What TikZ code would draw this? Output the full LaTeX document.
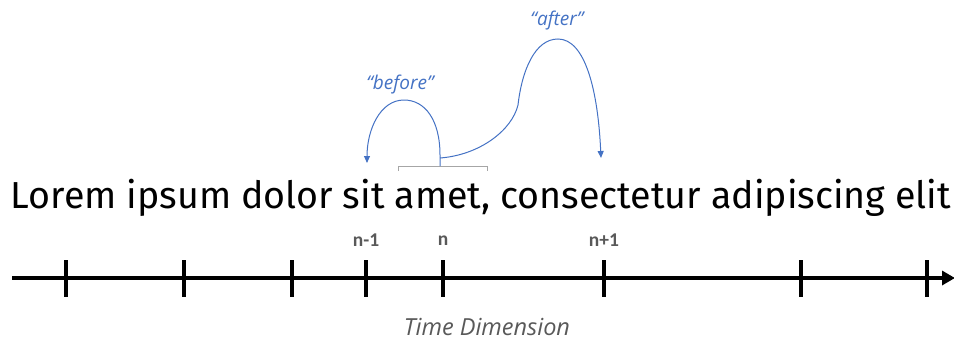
\documentclass[tikz,border=0pt]{standalone}
\usepackage{fontspec}
\setmainfont{Fira Sans}
\newfontfamily\lblfont{Carlito}
\newfontfamily\itfont{Open Sans}
\usetikzlibrary{arrows.meta}
\definecolor{arcblue}{HTML}{4472C4}
\definecolor{lblgray}{HTML}{595959}
\definecolor{brgray}{HTML}{A6A6A6}
\begin{document}
\begin{tikzpicture}[x=1pt,y=-1pt,
  axisline/.style={line width=3.6pt,-{Triangle[length=13pt,width=14pt]}},
  tickmark/.style={line width=3.6pt},
  ticklabel/.style={font=\lblfont\bfseries\fontsize{19.5}{21}\selectfont,text=lblgray},
  arcline/.style={arcblue,line width=1pt,-{Triangle[length=7pt,width=6pt]}},
  arclabel/.style={font=\itfont\itshape\fontsize{19}{22}\selectfont,text=arcblue},
  bracket/.style={brgray,line width=1pt}]
\useasboundingbox (0,0) rectangle (954,343);
% main sentence
\node[font=\fontsize{37.6}{40}\selectfont,anchor=base] (sent) at (481,208) {Lorem ipsum dolor sit amet, consectetur adipiscing elit};
% axis
\coordinate (axL) at (12,278);
\coordinate (axR) at (955,278);
\draw[axisline] (axL) -- (axR);
\foreach \x [count=\i] in {66,184,292,366,443,604,801,927}{
  \coordinate (tt\i) at (\x,260);
  \coordinate (tb\i) at (\x,297);
  \draw[tickmark] (tt\i) -- (tb\i);
}
\node[ticklabel] (lnm) at (366,240) {n-1};
\node[ticklabel] (ln) at (443,241) {n};
\node[ticklabel] (lnp) at (604,240) {n+1};
\node[font=\itfont\itshape\fontsize{23.5}{26}\selectfont,text=lblgray,inner sep=0pt,anchor=base] (tdim) at (487,335) {Time Dimension};
% bracket
\coordinate (bL) at (398,171);
\coordinate (bLt) at (398,166);
\coordinate (bR) at (487,171);
\coordinate (bRt) at (487,166);
\draw[bracket] (bL) -- (bLt) -- (bRt) -- (bR);
% arcs
\coordinate (start) at (440,166);
\coordinate (bend) at (367,163);
\coordinate (aend) at (601,158);
\draw[arcline] (start) -- (440,155) .. controls (440,120) and (425,100) .. (404,100)
   .. controls (380,100) and (367,130) .. (bend);
\draw[arcline] (440,158) .. controls (480,155) and (512,130) .. (518,105)
   .. controls (522,70) and (535,39) .. (558,39)
   .. controls (585,39) and (598,90) .. (aend);
\node[arclabel] (lbefore) at (400,85) {“before”};
\node[arclabel] (lafter) at (557,21) {“after”};
\end{tikzpicture}
\end{document}
